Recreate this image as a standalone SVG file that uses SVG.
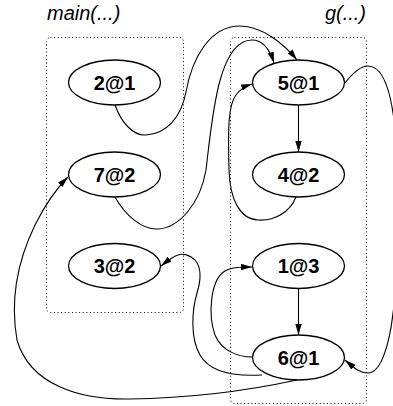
<svg xmlns="http://www.w3.org/2000/svg" width="393" height="406" viewBox="0 0 393 406">
  <style>
    .cluster { fill: none; stroke: #000; stroke-width: 1; stroke-dasharray: 1 2.6; }
    .clabel { font-family: "Liberation Sans", Arial, sans-serif; font-size: 20px; font-style: italic; fill: #000; }
    .node ellipse { fill: #fff; stroke: #000; stroke-width: 1.3; }
    .node text { font-family: "Liberation Sans", Arial, sans-serif; font-size: 20px; font-weight: bold; text-anchor: middle; fill: #000; }
    .edge { fill: none; stroke: #000; stroke-width: 1.1; marker-end: url(#arrow); }
  </style>
  <defs>
    <marker id="arrow" markerUnits="userSpaceOnUse" markerWidth="12" markerHeight="8" refX="11" refY="3.2" orient="auto">
      <path d="M0,0 L11,3.2 L0,6.4 z" fill="#000"/>
    </marker>
  </defs>

  <!-- clusters -->
  <g id="cluster_main">
    <rect class="cluster" x="46.5" y="37.5" width="137" height="275" rx="4"/>
    <text class="clabel" x="47" y="20">main(...)</text>
  </g>
  <g id="cluster_g">
    <rect class="cluster" x="230.5" y="37.5" width="136" height="366" rx="4"/>
    <text class="clabel" x="366" y="20" text-anchor="end">g(...)</text>
  </g>

  <!-- connectors -->
  <g id="edges">
    <path class="edge" d="M115,105 C121,122 133,136 146,135 C166,134 181,118 186,92 C192,58 210,26 240,26 C262,26 284,44 297,60"/>
    <path class="edge" d="M115,197 C125,215 142,230 158,229 C178,228 200,205 206,170 C212,120 218,40 252,40 C263,40 270,50 274,63"/>
    <path class="edge" d="M296,197 C290,212 275,221 258,220 C240,219 230,200 229,170 C228,130 228,105 236,95 C240,89 246,86 252,84"/>
    <path class="edge" d="M298.5,105 L298.5,152"/>
    <path class="edge" d="M345,83 C352,74 360,66 368,66 C385,66 393,100 396,140 C400,200 398,280 393,313 C390,340 382,373 368,373 C358,373 352,366 345,360"/>
    <path class="edge" d="M298.5,289 L298.5,335"/>
    <path class="edge" d="M252,357 C240,357 222,352 215,335 C208,315 210,280 225,271 C232,267 242,267 252,267"/>
    <path class="edge" d="M262,375 C245,376 212,376 200,355 C190,338 192,310 197,293 C201,280 202,268 195,260 C190,255 183,253 178,255 C172,257 166,262 161,266"/>
    <path class="edge" d="M297,380 C260,388 200,398 130,399 C80,400 30,385 17,340 C10,300 18,260 35,225 C45,205 55,190 68,177"/>
  </g>

  <!-- nodes -->
  <g id="n2_1" class="node"><ellipse cx="114.5" cy="82.5" rx="46" ry="22.5"/><text x="114.5" y="89.5">2@1</text></g>
  <g id="n7_2" class="node"><ellipse cx="114.5" cy="174.5" rx="46" ry="22.5"/><text x="114.5" y="181.5">7@2</text></g>
  <g id="n3_2" class="node"><ellipse cx="114.5" cy="266" rx="46" ry="22.5"/><text x="114.5" y="273">3@2</text></g>
  <g id="n5_1" class="node"><ellipse cx="298.5" cy="82.5" rx="46" ry="22.5"/><text x="298.5" y="89.5">5@1</text></g>
  <g id="n4_2" class="node"><ellipse cx="298.5" cy="174.5" rx="46" ry="22.5"/><text x="298.5" y="181.5">4@2</text></g>
  <g id="n1_3" class="node"><ellipse cx="298.5" cy="266" rx="46" ry="22.5"/><text x="298.5" y="273">1@3</text></g>
  <g id="n6_1" class="node"><ellipse cx="298.5" cy="357.5" rx="46" ry="22.5"/><text x="298.5" y="364.5">6@1</text></g>
</svg>
